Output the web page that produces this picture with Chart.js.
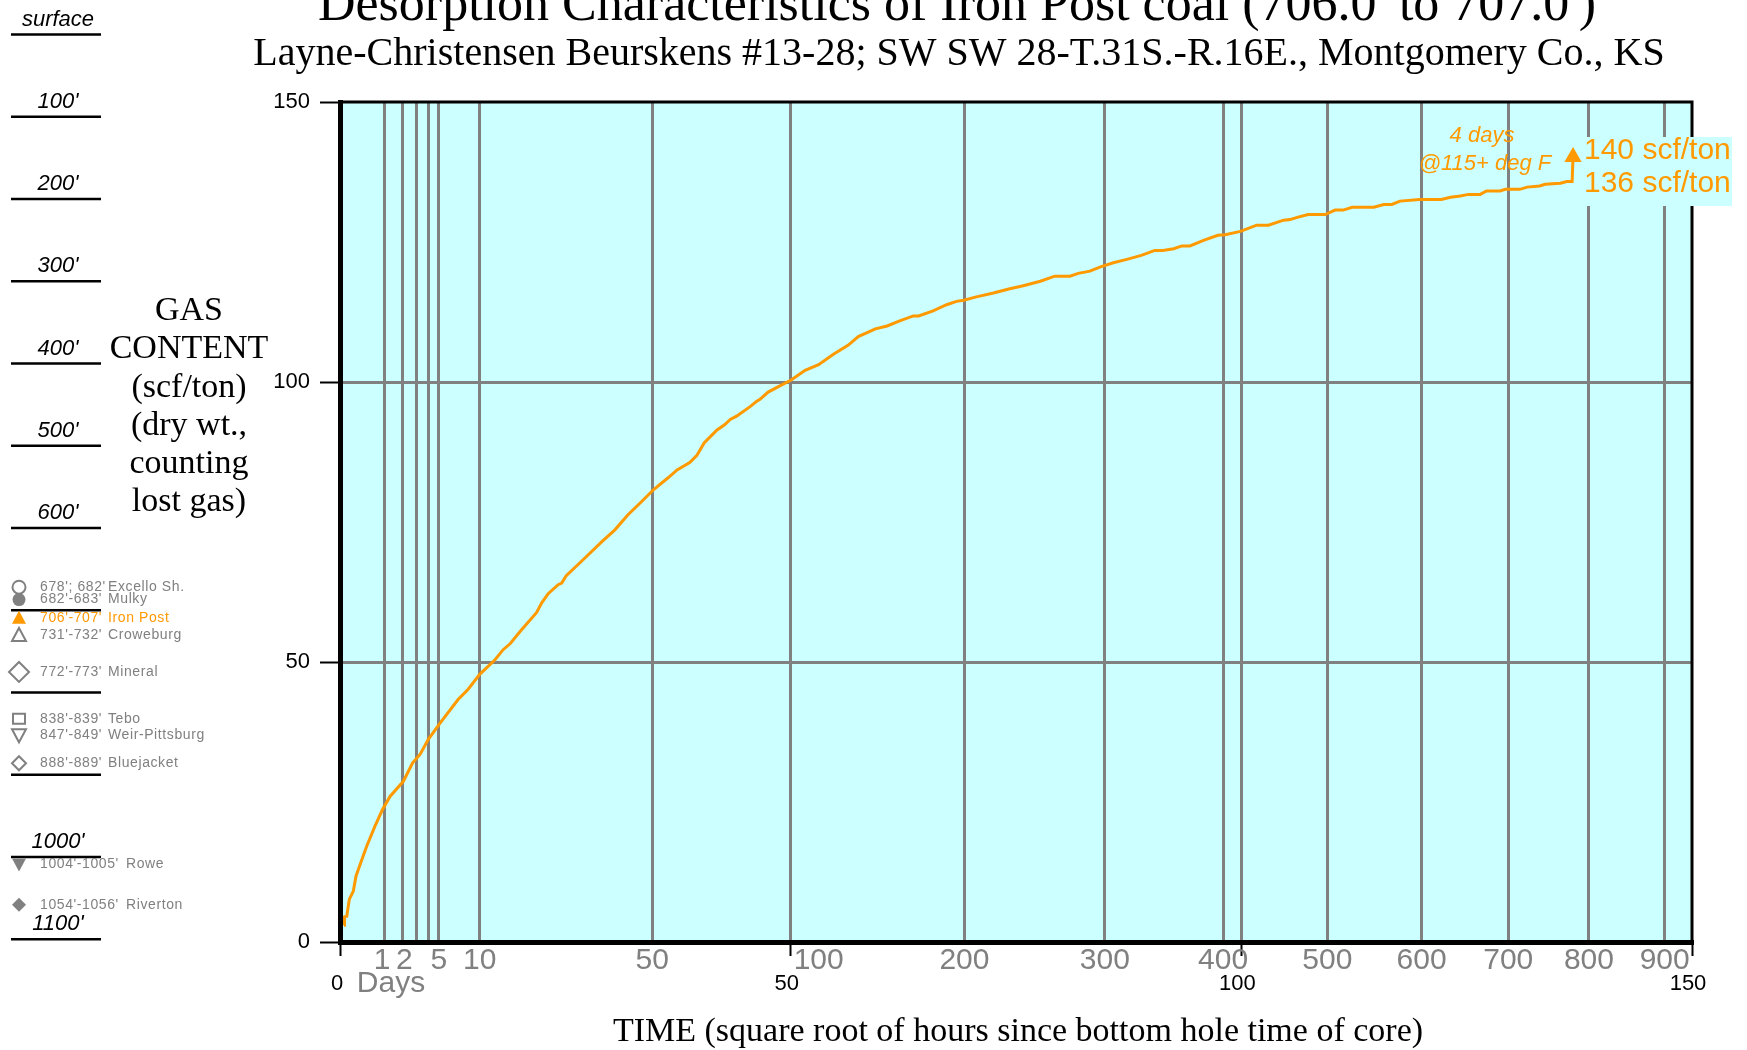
<!DOCTYPE html>
<html lang="en">
<head>
<meta charset="UTF-8">
<title>Desorption Characteristics of Iron Post coal</title>
<script src="https://cdn.jsdelivr.net/npm/chart.js"></script>
<style>
  html, body { margin: 0; padding: 0; background: #fff; }
  #wrap { position: relative; width: 1747px; height: 1050px; }
</style>
</head>
<body>
<div id="wrap"><canvas id="grafica" width="1747" height="1050"></canvas></div>
<script>
// desorption curve: x = square root of hours since bottom hole time, y = scf/ton
const sqrtHours = [0.45, 0.5, 0.75, 1.03, 1.48, 1.78, 2.22, 2.96, 3.88, 4.73,
  5.55, 7.03, 8.06, 8.88, 9.8, 11.1, 13.1, 14.2, 15.5, 17.2,
  18.1, 18.9, 20.0, 21.8, 22.4, 23.1, 24.2, 24.6, 25.1, 27.0,
  29.0, 30.5, 31.9, 33.3, 34.8, 36.4, 37.4, 38.8, 39.6, 40.4,
  41.8, 42.7, 43.3, 44.0, 45.5, 46.2, 46.6, 47.5, 48.8, 50.1,
  51.6, 53.1, 54.7, 56.4, 57.5, 59.4, 60.7, 62.1, 63.6, 64.2,
  65.8, 67.3, 68.4, 69.2, 70.6, 72.5, 74.2, 75.8, 77.7, 79.3,
  81.0, 81.9, 83.2, 84.3, 85.8, 87.3, 88.9, 90.4, 91.3, 92.5,
  93.4, 94.3, 95.8, 97.4, 98.2, 99.9, 101.7, 103.0, 104.7, 105.4,
  106.2, 107.4, 109.3, 110.4, 111.3, 112.3, 114.7, 115.8, 116.7, 117.6,
  119.8, 122.2, 123.2, 124.3, 125.2, 126.5, 127.2, 128.7, 129.3, 130.9,
  131.7, 133.1, 133.7, 135.4, 136.1, 136.7, 136.8];
const gasContent = [3.0, 4.5, 4.6, 7.6, 9.1, 11.8, 13.8, 17.1, 20.7, 23.7,
  26.0, 28.7, 32.0, 33.5, 36.2, 39.1, 43.3, 45.1, 47.8, 50.4,
  52.2, 53.3, 55.5, 58.8, 60.6, 62.2, 63.8, 64.1, 65.4, 68.3,
  71.4, 73.6, 76.2, 78.4, 80.8, 82.9, 84.3, 85.6, 86.9, 89.1,
  91.4, 92.4, 93.3, 93.9, 95.6, 96.5, 96.9, 98.2, 99.3, 100.4,
  102.1, 103.1, 104.9, 106.6, 108.1, 109.5, 110.0, 110.9, 111.8, 111.8,
  112.7, 113.8, 114.4, 114.6, 115.2, 115.9, 116.6, 117.2, 118.0, 118.9,
  118.9, 119.4, 119.8, 120.5, 121.3, 121.9, 122.6, 123.5, 123.5, 123.8,
  124.3, 124.3, 125.3, 126.2, 126.3, 126.9, 128.0, 128.0, 128.9, 129.0,
  129.4, 129.9, 129.9, 130.7, 130.7, 131.2, 131.2, 131.7, 131.7, 132.3,
  132.6, 132.6, 133.0, 133.2, 133.5, 133.5, 134.1, 134.1, 134.4, 134.4,
  134.8, 135.0, 135.3, 135.5, 135.8, 135.8, 140.2];

// axes
const sqrtTicks = [0, 50, 100, 150];
const yTicks = [0, 50, 100, 150];
const dayLines = [1, 2, 3, 4, 5, 10, 50, 200, 300, 400, 500, 600, 700, 800, 900];
const dayLabels = [1, 2, 5, 10, 50, 100, 200, 300, 400, 500, 600, 700, 800, 900];

// depth column on the left
const depthMarks = [0, 100, 200, 300, 400, 500, 600, 700, 800, 900, 1000, 1100];
const depthTexts = ['surface', "100'", "200'", "300'", "400'", "500'", "600'", '', '', '', "1000'", "1100'"];
const coalIntervals = ["678'; 682'", "682'-683'", "706'-707'", "731'-732'", "772'-773'", "838'-839'", "847'-849'", "888'-889'", "1004'-1005'", "1054'-1056'"];
const coalNames = ['Excello Sh.', 'Mulky', 'Iron Post', 'Croweburg', 'Mineral', 'Tebo', 'Weir-Pittsburg', 'Bluejacket', 'Rowe', 'Riverton'];
const coalDepths = [672, 687, 709, 730, 775, 832, 852, 886, 1009, 1058];
const coalMarkers = ['circleOpen', 'circle', 'triangle', 'triangleOpen', 'diamondBigOpen', 'squareOpen', 'triDownOpen', 'diamondOpen', 'triDown', 'diamond'];

const ORANGE = '#FF9900';
const GRAY = '#808080';

const xGrid = sqrtTicks.concat(dayLines.map(d => Math.sqrt(24 * d))).sort((a, b) => a - b);

function depthY(d) { return 34.5 + d * 0.8225; }

function drawMarker(ctx, kind, x, y, color) {
  ctx.save();
  ctx.strokeStyle = color;
  ctx.fillStyle = color;
  ctx.lineWidth = 2;
  ctx.beginPath();
  const filled = !kind.endsWith('Open');
  const k = kind.replace('Open', '');
  if (k === 'circle') {
    ctx.arc(x, y, 6.5, 0, Math.PI * 2);
  } else if (k === 'triangle') {
    ctx.moveTo(x, y - 7); ctx.lineTo(x + 7, y + 6); ctx.lineTo(x - 7, y + 6); ctx.closePath();
  } else if (k === 'triDown') {
    ctx.moveTo(x, y + 7); ctx.lineTo(x + 7, y - 6); ctx.lineTo(x - 7, y - 6); ctx.closePath();
  } else if (k === 'square') {
    ctx.rect(x - 6, y - 5, 12, 10);
  } else if (k === 'diamondBig') {
    ctx.moveTo(x, y - 10); ctx.lineTo(x + 10, y); ctx.lineTo(x, y + 10); ctx.lineTo(x - 10, y); ctx.closePath();
  } else if (k === 'diamond') {
    ctx.moveTo(x, y - 7); ctx.lineTo(x + 7, y); ctx.lineTo(x, y + 7); ctx.lineTo(x - 7, y); ctx.closePath();
  }
  if (filled) ctx.fill(); else ctx.stroke();
  ctx.restore();
}

const extras = {
  id: 'extras',
  beforeDraw(chart) {
    const { ctx, chartArea: a } = chart;
    ctx.save();
    ctx.fillStyle = '#fff';
    ctx.fillRect(0, 0, chart.width, chart.height);
    ctx.fillStyle = '#CCFFFF';
    ctx.fillRect(a.left, a.top, a.right - a.left, a.bottom - a.top);
    ctx.restore();
  },
  afterDraw(chart) {
    const { ctx, chartArea: a } = chart;
    const xs = chart.scales.x;
    ctx.save();

    // top and right frame
    ctx.strokeStyle = '#000';
    ctx.lineWidth = 3;
    ctx.beginPath();
    ctx.moveTo(a.left - 2, a.top);
    ctx.lineTo(a.right, a.top);
    ctx.lineTo(a.right, a.bottom);
    ctx.stroke();

    // titles
    ctx.fillStyle = '#000';
    ctx.textAlign = 'center';
    ctx.textBaseline = 'alphabetic';
    ctx.font = '52px "Liberation Serif"';
    ctx.fillText("Desorption Characteristics of Iron Post coal (706.0' to 707.0')", 957, 20);
    ctx.font = '40px "Liberation Serif"';
    ctx.fillText('Layne-Christensen Beurskens #13-28; SW SW 28-T.31S.-R.16E., Montgomery Co., KS', 959, 65);

    // y axis title
    ctx.font = '34px "Liberation Serif"';
    ctx.textBaseline = 'middle';
    ['GAS', 'CONTENT', '(scf/ton)', '(dry wt.,', 'counting', 'lost gas)'].forEach((t, i) => {
      ctx.fillText(t, 189, 311 + i * 38.3);
    });

    // x axis title
    ctx.font = '34px "Liberation Serif"';
    ctx.fillText('TIME (square root of hours since bottom hole time of core)', 1018, 1032);

    // day labels (gray) and sqrt-hour labels (black)
    ctx.font = '30px "Liberation Sans"';
    ctx.fillStyle = GRAY;
    dayLabels.forEach(d => {
      if (d === 100) {
        // the 100 day label sits just right of the 50 line
        ctx.textAlign = 'left';
        ctx.fillText(String(d), xs.getPixelForValue(50) + 3, 961);
      } else {
        ctx.textAlign = 'center';
        const nudge = d === 1 ? -2 : (d === 2 ? 2 : 0);
        ctx.fillText(String(d), xs.getPixelForValue(Math.sqrt(24 * d)) + nudge, 961);
      }
    });
    ctx.textAlign = 'center';
    ctx.fillText('Days', 391, 984);
    ctx.fillStyle = '#000';
    ctx.font = '22px "Liberation Sans"';
    sqrtTicks.forEach(v => {
      ctx.fillText(String(v), xs.getPixelForValue(v) - (v === 0 ? 3 : 4), 984);
    });

    // annotation at the end of the curve
    ctx.fillStyle = ORANGE;
    ctx.font = 'italic 22px "Liberation Sans"';
    ctx.fillText('4 days', 1482, 136);
    ctx.fillText('@115+ deg F', 1485, 164);
    ctx.fillStyle = '#CCFFFF';
    ctx.fillRect(1583, 137, 149, 69);
    ctx.fillStyle = ORANGE;
    ctx.font = '30px "Liberation Sans"';
    ctx.textAlign = 'left';
    ctx.textBaseline = 'alphabetic';
    ctx.fillText('140 scf/ton', 1584, 159);
    ctx.fillText('136 scf/ton', 1584, 192);

    // depth column
    ctx.fillStyle = '#000';
    ctx.strokeStyle = '#000';
    ctx.lineWidth = 2.5;
    ctx.font = 'italic 22px "Liberation Sans"';
    ctx.textAlign = 'center';
    depthMarks.forEach((d, i) => {
      const y = depthY(d);
      ctx.beginPath();
      ctx.moveTo(11, y);
      ctx.lineTo(101, y);
      ctx.stroke();
      if (depthTexts[i]) ctx.fillText(depthTexts[i], 58, y - 9);
    });

    // coal beds
    ctx.font = '14px "Liberation Sans"';
    ctx.textAlign = 'left';
    ctx.textBaseline = 'middle';
    if ('letterSpacing' in ctx) ctx.letterSpacing = '0.6px';
    coalNames.forEach((name, i) => {
      const y = depthY(coalDepths[i]);
      const col = name === 'Iron Post' ? ORANGE : GRAY;
      drawMarker(ctx, coalMarkers[i], 19, y, col);
      ctx.fillStyle = col;
      ctx.fillText(coalIntervals[i], 40, y);
      // the four-digit depths push the name further right
      const nameX = coalIntervals[i].length > 10 ? 126 : 108;
      ctx.fillText(name, nameX, y);
    });
    ctx.restore();
  }
};

const last = sqrtHours.length - 1;

new Chart(document.getElementById('grafica'), {
  type: 'line',
  data: {
    datasets: [{
      label: 'Iron Post',
      data: sqrtHours.map((x, i) => ({ x: x, y: gasContent[i] })),
      borderColor: ORANGE,
      backgroundColor: ORANGE,
      borderWidth: 3,
      tension: 0,
      pointStyle: 'triangle',
      pointRadius: ctx => ctx.dataIndex === last ? 10 : 0,
      pointBorderWidth: 0,
      clip: false
    }]
  },
  options: {
    responsive: false,
    animation: false,
    devicePixelRatio: 1,
    layout: { padding: { top: 102, right: 55, bottom: 0, left: 0 } },
    plugins: { legend: { display: false }, tooltip: { enabled: false } },
    scales: {
      x: {
        type: 'linear',
        min: 0,
        max: 150,
        afterBuildTicks: s => { s.ticks = xGrid.map(v => ({ value: v })); },
        afterFit: s => { s.height = 108; },
        ticks: { display: false },
        border: { color: '#000', width: 5 },
        grid: {
          color: c => (c.tick && (c.tick.value === 0 || c.tick.value === 150)) ? 'rgba(0,0,0,0)' : GRAY,
          lineWidth: 3,
          tickLength: 14,
          tickWidth: 2,
          tickColor: c => (c.tick && sqrtTicks.includes(c.tick.value)) ? '#000' : 'rgba(0,0,0,0)'
        }
      },
      y: {
        min: 0,
        max: 150,
        afterBuildTicks: s => { s.ticks = yTicks.map(v => ({ value: v })); },
        afterFit: s => { s.width = 340; },
        ticks: { color: '#000', font: { family: 'Liberation Sans', size: 22 }, padding: 10 },
        border: { color: '#000', width: 5 },
        grid: {
          color: c => (c.tick && (c.tick.value === 0 || c.tick.value === 150)) ? 'rgba(0,0,0,0)' : GRAY,
          lineWidth: 3,
          tickLength: 20,
          tickWidth: 2,
          tickColor: '#000'
        }
      }
    }
  },
  plugins: [extras]
});
</script>
</body>
</html>
